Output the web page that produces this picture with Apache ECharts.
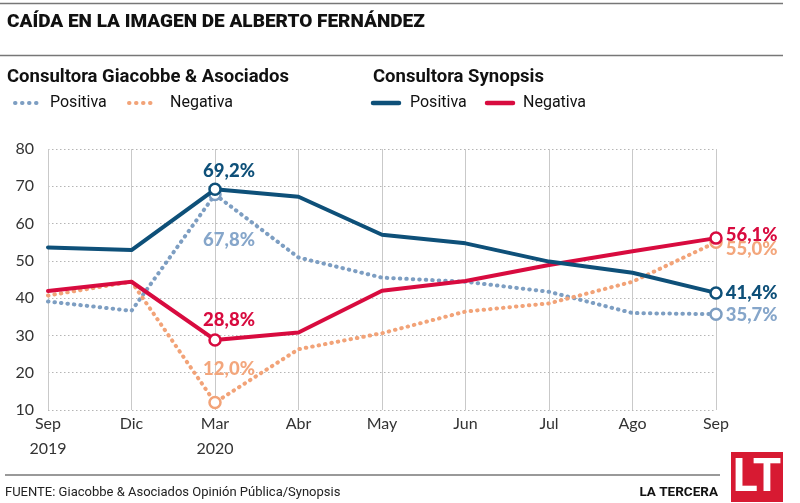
<!DOCTYPE html>
<html>
<head>
<meta charset="utf-8">
<script src="https://cdn.jsdelivr.net/npm/echarts@6/dist/echarts.min.js"></script>
<style>
html,body{margin:0;padding:0;background:#fff;}
#chart{width:800px;height:503px;}
</style>
</head>
<body>
<div id="chart"></div>
<script>
const categories = ['Sep\n2019', 'Dic', 'Mar\n2020', 'Abr', 'May', 'Jun', 'Jul', 'Ago', 'Sep'];
const yTicks = [10, 20, 30, 40, 50, 60, 70, 80];
const giacobbePositiva = [39.1, 36.6, 67.8, 50.9, 45.5, 44.4, 41.7, 36.0, 35.7];
const giacobbeNegativa = [40.7, 44.4, 12.0, 26.3, 30.6, 36.4, 38.6, 44.4, 55.0];
const synopsisPositiva = [53.6, 52.9, 69.2, 67.2, 57.0, 54.7, 49.8, 46.8, 41.4];
const synopsisNegativa = [41.9, 44.4, 28.8, 30.8, 42.0, 44.6, 48.9, 52.6, 56.1];
const markedIndices = [2, 8];

const C = {
  gPos: '#7d9ec2', gNeg: '#f2a378', sPos: '#0e5079', sNeg: '#d80b3f',
  gPosTxt: '#86a6ca', gNegTxt: '#f3a67c'
};
const fmt = v => v.toFixed(1).replace('.', ',') + '%';
const FN = "Roboto, 'Liberation Sans', sans-serif";
const FA = "Lato, 'Open Sans', sans-serif";

function build(values, color, txtColor, midPos, midDist, endShift) {
  return values.map((v, i) => {
    if (markedIndices.indexOf(i) < 0) return { value: v, symbol: 'none' };
    const isEnd = i === values.length - 1;
    return {
      value: v,
      symbol: 'circle',
      symbolSize: 11,
      itemStyle: { color: '#fff', borderColor: color, borderWidth: 2.5 },
      label: {
        show: true,
        position: isEnd ? 'right' : midPos,
        distance: isEnd ? 3 : midDist,
        offset: isEnd ? [0, endShift] : [14, 0],
        formatter: p => fmt(p.value),
        color: txtColor,
        fontFamily: FA,
        fontWeight: 900,
        fontSize: 18.5
      }
    };
  });
}

function series(name, values, color, txtColor, dotted, midPos, midDist, endShift, z) {
  return {
    name, type: 'line', z,
    data: build(values, color, txtColor, midPos, midDist, endShift),
    showSymbol: true,
    showAllSymbol: true,
    symbol: 'none',
    lineStyle: dotted
      ? { color, width: 4, type: [0.5, 6], cap: 'round', join: 'round' }
      : { color, width: 4, cap: 'round', join: 'round' },
    itemStyle: { color },
    emphasis: { disabled: true },
    animation: false
  };
}

const chart = echarts.init(document.getElementById('chart'), null, { renderer: 'canvas' });

function legendDots(x, y, color) {
  return { type: 'line', shape: { x1: x, y1: y, x2: x + 24, y2: y },
    style: { stroke: color, lineWidth: 4, lineDash: [0.5, 6.5], lineCap: 'round' } };
}
function legendLine(x, y, color) {
  return { type: 'line', shape: { x1: x, y1: y, x2: x + 26, y2: y },
    style: { stroke: color, lineWidth: 4.5, lineCap: 'round' } };
}
function txt(x, y, text, opts) {
  return { type: 'text', x, y, style: Object.assign({ text, fill: '#111', verticalAlign: 'middle' }, opts) };
}

chart.setOption({
  animation: false,
  grid: { left: 48, right: 84, top: 149, bottom: 93, containLabel: false },
  xAxis: {
    type: 'category',
    data: categories,
    boundaryGap: false,
    axisLine: { show: false },
    axisTick: { show: false },
    axisLabel: { color: '#333', fontFamily: FA, fontSize: 16, lineHeight: 25, margin: 1, interval: 0 },
    splitLine: { show: true, lineStyle: { color: '#c9c9c9', width: 1 } }
  },
  yAxis: {
    type: 'value',
    min: yTicks[0], max: yTicks[yTicks.length - 1], interval: 10,
    axisLine: { show: false },
    axisTick: { show: false },
    axisLabel: { color: '#333', fontFamily: FA, fontSize: 16, margin: 14 },
    splitLine: { show: true, lineStyle: { color: '#b5b5b5', type: [1.5, 2.5], width: 1 } }
  },
  series: [
    series('G-Positiva', giacobbePositiva, C.gPos, C.gPosTxt, true, 'bottom', 29, 1, 2),
    series('G-Negativa', giacobbeNegativa, C.gNeg, C.gNegTxt, true, 'top', 17, 7, 2),
    series('S-Negativa', synopsisNegativa, C.sNeg, C.sNeg, false, 'top', 4, -3, 3),
    series('S-Positiva', synopsisPositiva, C.sPos, C.sPos, false, 'top', 2, 0, 4)
  ],
  graphic: [
    { type: 'line', shape: { x1: 0, y1: 3.5, x2: 783, y2: 3.5 }, style: { stroke: '#777', lineWidth: 1.5 } },
    txt(7, 22, 'CAÍDA EN LA IMAGEN DE ALBERTO FERNÁNDEZ', { font: "900 19px " + FN, fill: '#111' }),
    { type: 'line', shape: { x1: 0, y1: 55.5, x2: 783, y2: 55.5 }, style: { stroke: '#777', lineWidth: 1.5 } },
    txt(7, 77, 'Consultora Giacobbe & Asociados', { font: "bold 18.5px " + FN }),
    txt(373, 77, 'Consultora Synopsis', { font: "bold 18.5px " + FN }),
    legendDots(15, 103, C.gPos),
    txt(50, 103, 'Positiva', { font: "16px " + FN }),
    legendDots(129, 103, C.gNeg),
    txt(170, 103, 'Negativa', { font: "16px " + FN }),
    legendLine(373, 103, C.sPos),
    txt(410, 103, 'Positiva', { font: "16px " + FN }),
    legendLine(487, 103, C.sNeg),
    txt(523, 103, 'Negativa', { font: "16px " + FN }),
    { type: 'line', shape: { x1: 5, y1: 475, x2: 720, y2: 475 }, style: { stroke: '#777', lineWidth: 1.5 } },
    txt(5, 493, 'FUENTE: Giacobbe & Asociados Opinión Pública/Synopsis', { font: "13px " + FN, fill: '#222' }),
    txt(718, 493, 'LA TERCERA', { font: "bold 13.5px " + FN, fill: '#111', align: 'right' }),
    { type: 'rect', shape: { x: 731, y: 452, width: 52, height: 50 }, style: { fill: '#d71a32' } },
    txt(757, 479, 'LT', { font: "bold 46px " + FN, fill: '#fff', align: 'center' })
  ]
});
</script>
</body>
</html>
